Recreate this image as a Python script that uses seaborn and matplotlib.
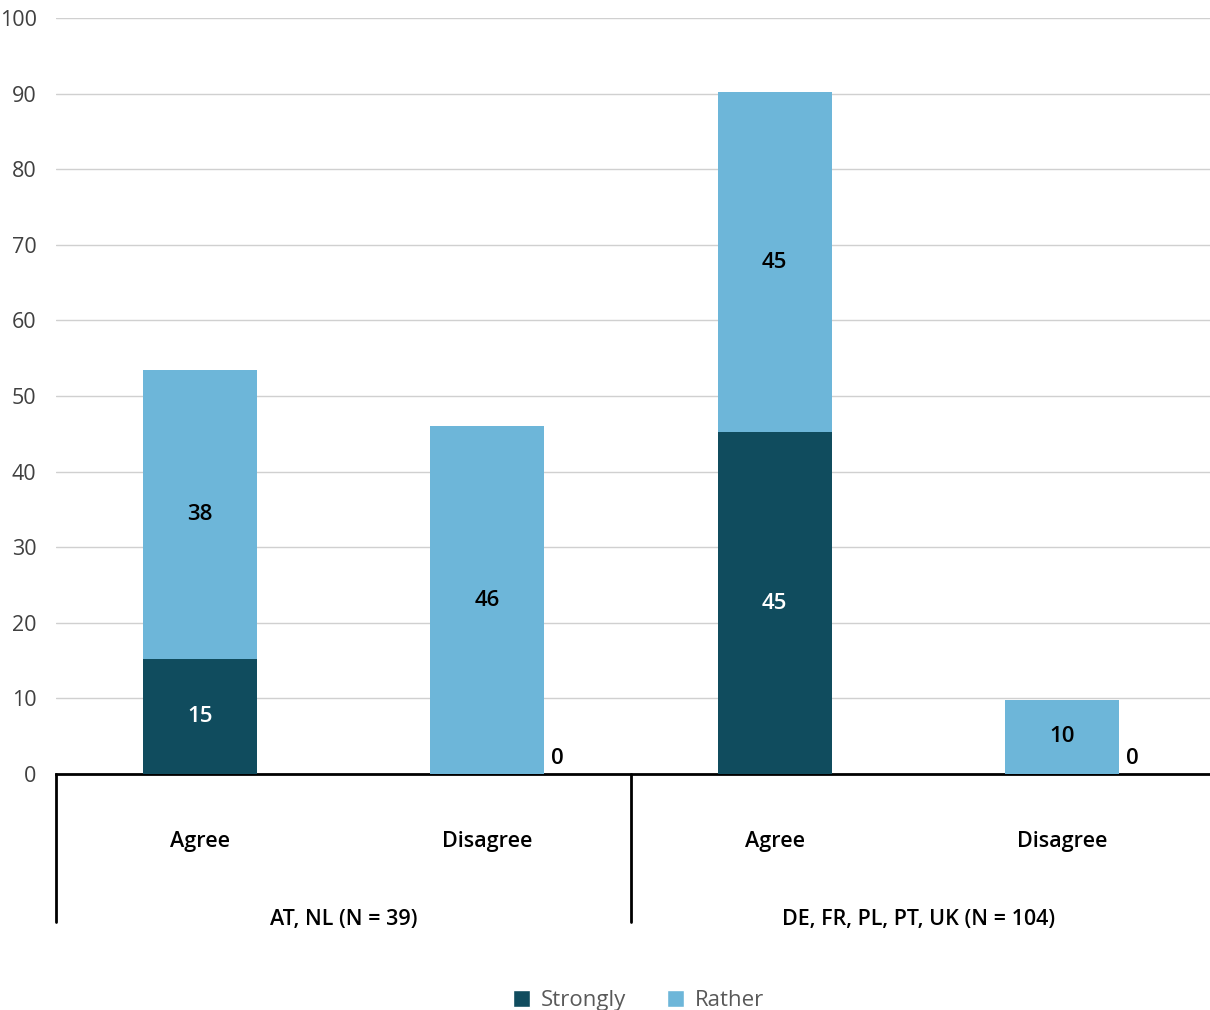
import matplotlib
matplotlib.use("Agg")
import matplotlib.pyplot as plt
from matplotlib.patches import Patch
import seaborn as sns
import pandas as pd

# data -----------------------------------------------------------------
categories = ["Agree", "Disagree", "Agree", "Disagree"]
groups = ["AT, NL (N = 39)", "DE, FR, PL, PT, UK (N = 104)"]
strongly = [15.2, 0.0, 45.2, 0.0]
rather = [38.2, 46.0, 45.0, 9.8]
strongly_lbl = ["15", "0", "45", "0"]
rather_lbl = ["38", "46", "45", "10"]
y_ticks = [0, 10, 20, 30, 40, 50, 60, 70, 80, 90, 100]

c_strong = "#104C5E"
c_rather = "#6DB6D9"

sns.set_theme(style="white")
plt.rcParams["font.family"] = ["Open Sans", "DejaVu Sans"]
wt = "semibold"

df = pd.DataFrame({
    "pos": range(len(categories)),
    "strongly": strongly,
    "total": [s + r for s, r in zip(strongly, rather)],
})

fig = plt.figure(figsize=(12.1, 10.1), dpi=100)
ax = fig.add_axes([56 / 1210, 1 - 774 / 1010, 1154 / 1210, 756 / 1010])

bw = 0.397
# stacked bars: total first, strongly on top of it
sns.barplot(data=df, x="pos", y="total", color=c_rather, width=bw,
            saturation=1, linewidth=0, ax=ax, zorder=3)
sns.barplot(data=df, x="pos", y="strongly", color=c_strong, width=bw,
            saturation=1, linewidth=0, ax=ax, zorder=4)

ax.set_xlim(-0.5, 3.514)
ax.set_ylim(0, 100)
ax.set_yticks(y_ticks)
ax.set_yticklabels([str(t) for t in y_ticks], fontsize=15.5, color="#404040")
ax.tick_params(axis="y", length=0, pad=14)
ax.set_xticks([])
ax.set_xlabel("")
ax.set_ylabel("")
ax.grid(axis="y", color="#D0D0D0", linewidth=1, zorder=0)
for s in ["left", "right", "top"]:
    ax.spines[s].set_visible(False)
ax.spines["bottom"].set_color("black")
ax.spines["bottom"].set_linewidth(2)
ax.spines["bottom"].set_zorder(2)

# value labels
half = bw / 2
for i in range(len(categories)):
    if strongly[i] > 0:
        ax.text(i, strongly[i] / 2, strongly_lbl[i], ha="center", va="center",
                color="white", fontsize=16, fontweight=wt, zorder=5)
    else:
        ax.text(i + half + 0.025, 0.6, strongly_lbl[i], ha="left", va="bottom",
                color="black", fontsize=16, fontweight=wt, zorder=5)
    ax.text(i, strongly[i] + rather[i] / 2, rather_lbl[i], ha="center",
            va="center", color="black", fontsize=16, fontweight=wt, zorder=5)

# two-level category axis
trans = ax.get_xaxis_transform()
for i, c in enumerate(categories):
    ax.text(i, -67 / 756, c, transform=trans, ha="center", va="center",
            fontsize=15.5, fontweight=wt, color="black")
for g, name in enumerate(groups):
    ax.text(2 * g + 0.5, -145 / 756, name, transform=trans, ha="center",
            va="center", fontsize=15.5, fontweight=wt, color="black")
for xline in [-0.5, 1.5]:
    ax.plot([xline, xline], [0, -148 / 756], transform=trans, color="black",
            linewidth=2, clip_on=False)

handles = [Patch(facecolor=c_strong, label="Strongly"),
           Patch(facecolor=c_rather, label="Rather")]
leg = fig.legend(handles=handles, loc="lower center", ncol=2,
                 bbox_to_anchor=(0.528, -0.021), frameon=False, fontsize=16,
                 handlelength=0.75, handleheight=0.75, handletextpad=0.5,
                 columnspacing=1.85)
for t in leg.get_texts():
    t.set_color("#595959")

fig.savefig("out.png", dpi=100)
